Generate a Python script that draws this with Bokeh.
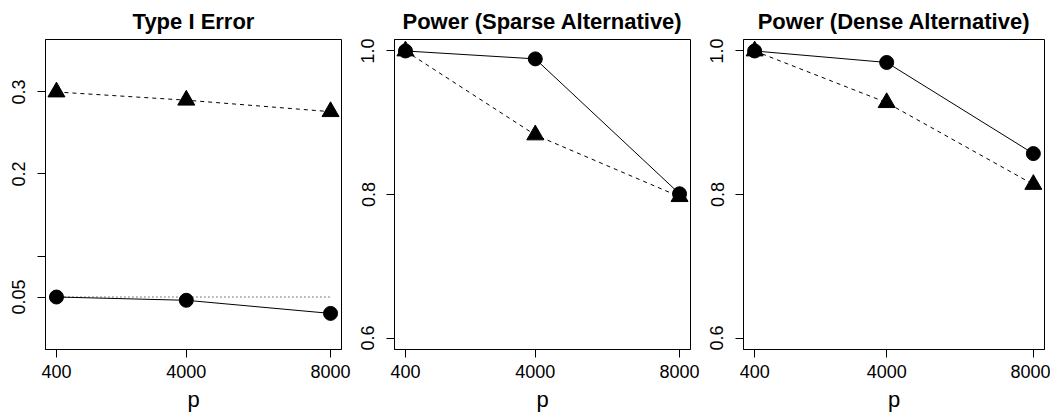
from bokeh.plotting import figure
from bokeh.models import FixedTicker, Range1d
from bokeh.layouts import row
from bokeh.embed import file_html
from bokeh.resources import INLINE

# ---- data ----
p_values = [400, 4000, 8000]
x_ticks = [400, 4000, 8000]

type1_circle = [0.050, 0.046, 0.030]
type1_triangle = [0.300, 0.290, 0.276]
sparse_circle = [1.000, 0.989, 0.801]
sparse_triangle = [1.000, 0.883, 0.797]
dense_circle = [1.000, 0.984, 0.857]
dense_triangle = [1.000, 0.928, 0.814]

nominal_level = 0.05

titles = ["Type I Error", "Power (Sparse Alternative)", "Power (Dense Alternative)"]
x_label = "p"

type1_ylim = (0.0, 0.35)
type1_yticks = [0.05, 0.1, 0.2, 0.3]
type1_ylabels = ["0.05", "", "0.2", "0.3"]

power_ylim = (0.6, 1.0)
power_yticks = [0.6, 0.8, 1.0]
power_ylabels = ["0.6", "0.8", "1.0"]

FONT = "Liberation Sans"


def padded(lo, hi, frac=0.04):
    d = (hi - lo) * frac
    return lo - d, hi + d


def make_panel(title, circ, tri, ylim, yticks, ylabels, frame_w, left, right, ref=None):
    x0, x1 = padded(min(p_values), max(p_values))
    y0, y1 = padded(*ylim)
    top, frame_h, bottom = 38, 311, 70
    fig = figure(
        width=left + frame_w + right, height=top + frame_h + bottom,
        x_range=Range1d(x0, x1), y_range=Range1d(y0, y1),
        output_backend="svg", toolbar_location=None,
        min_border_left=left, min_border_right=right,
        min_border_top=top, min_border_bottom=bottom,
        title=title,
    )
    fig.background_fill_color = "white"
    fig.border_fill_color = "white"
    fig.outline_line_color = "black"
    fig.outline_line_width = 1
    fig.outline_line_alpha = 1
    fig.grid.visible = False

    t = fig.title
    t.text_font = FONT
    t.text_font_size = "22px"
    t.text_font_style = "bold"
    t.align = "center"
    t.text_color = "black"
    t.text_line_height = 0.8
    t.standoff = 12

    for ax in (fig.xaxis[0], fig.yaxis[0]):
        ax.axis_line_color = "black"
        ax.major_tick_line_color = "black"
        ax.major_tick_out = 8
        ax.major_tick_in = 0
        ax.minor_tick_out = 0
        ax.minor_tick_in = 0
        ax.major_label_text_font = FONT
        ax.major_label_text_font_size = "18px"
        ax.major_label_text_color = "black"

    xa = fig.xaxis[0]
    xa.ticker = FixedTicker(ticks=x_ticks, minor_ticks=[])
    xa.major_label_standoff = 7
    xa.axis_label = x_label
    xa.axis_label_text_font = FONT
    xa.axis_label_text_font_size = "22px"
    xa.axis_label_text_font_style = "normal"
    xa.axis_label_text_color = "black"
    xa.axis_label_standoff = 6

    ya = fig.yaxis[0]
    ya.ticker = FixedTicker(ticks=yticks, minor_ticks=[])
    ya.major_label_overrides = {tk: lb for tk, lb in zip(yticks, ylabels)}
    ya.major_label_orientation = "vertical"
    ya.major_label_standoff = 12

    if ref is not None:
        fig.line([p_values[0], p_values[-1]], [ref, ref], line_color="black",
                 line_width=1, line_dash="1 3")
    fig.line(p_values, circ, line_color="black", line_width=1)
    fig.line(p_values, tri, line_color="black", line_width=1, line_dash="4 4")
    fig.scatter(p_values, circ, marker="circle", size=14,
                fill_color="black", line_color="black")
    fig.scatter(p_values, tri, marker="triangle", size=17,
                fill_color="black", line_color="black")
    return fig


f1 = make_panel(titles[0], type1_circle, type1_triangle, type1_ylim,
                type1_yticks, type1_ylabels, 296, 45, 16, ref=nominal_level)
f2 = make_panel(titles[1], sparse_circle, sparse_triangle, power_ylim,
                power_yticks, power_ylabels, 296, 37, 16)
f3 = make_panel(titles[2], dense_circle, dense_triangle, power_ylim,
                power_yticks, power_ylabels, 301, 37, 6)

layout = row(f1, f2, f3)
open("out.html", "w").write(file_html(layout, INLINE))
